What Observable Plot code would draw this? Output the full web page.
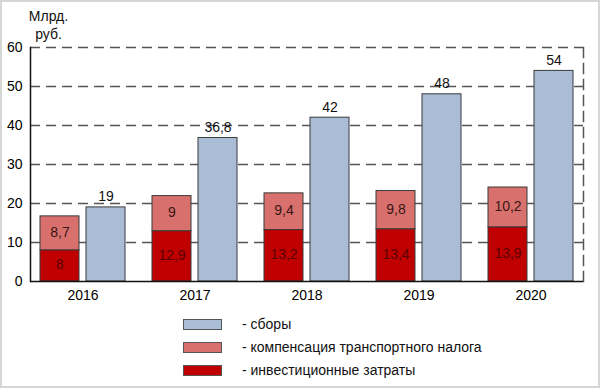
<!DOCTYPE html>
<html>
<head>
<meta charset="utf-8">
<script src="https://cdn.jsdelivr.net/npm/d3@7"></script>
<script src="https://cdn.jsdelivr.net/npm/@observablehq/plot@0.6"></script>
<style>
  html, body { margin: 0; padding: 0; background: #fff; }
  #wrap { position: relative; width: 600px; height: 388px; overflow: hidden; font-family: "Liberation Sans", Arial, sans-serif; }
  #wrap svg { position: absolute; left: 0; top: 0; }
  #border { position: absolute; left: 0; top: 0; width: 600px; height: 388px; box-sizing: border-box; border: 2px solid #d6d6d6; pointer-events: none; }
  .leg { position: absolute; left: 183px; width: 400px; height: 12px; font-size: 14px; color: #111; }
  .leg .sw { position: absolute; left: 0; top: 0; width: 39px; height: 11px; border: 1px solid #555; box-sizing: border-box; }
  .leg .lb { position: absolute; left: 59px; top: -3px; white-space: nowrap; line-height: 16px; }
</style>
</head>
<body>
<div id="wrap"><div id="border"></div></div>
<script>
const years = ["2016", "2017", "2018", "2019", "2020"];
const investments = [8, 12.9, 13.2, 13.4, 13.9];        // инвестиционные затраты
const compensation = [8.7, 9, 9.4, 9.8, 10.2];          // компенсация транспортного налога
const fees = [19, 36.8, 42, 48, 54];                    // сборы
const yTicks = [0, 10, 20, 30, 40, 50, 60];
const gridTicks = [10, 20, 30, 40, 50, 60];
const seriesNames = ["инвестиционные затраты", "компенсация транспортного налога", "сборы"];
const colors = { "инвестиционные затраты": "#c00000", "компенсация транспортного налога": "#d8716d", "сборы": "#a9bdd7" };
const labelColors = { "инвестиционные затраты": "#5a0000", "компенсация транспортного налога": "#3a1515" };

const stacked = [];
years.forEach((y, i) => {
  stacked.push({ year: y, series: seriesNames[0], value: investments[i] });
  stacked.push({ year: y, series: seriesNames[1], value: compensation[i] });
});
const feeRows = years.map((y, i) => ({ year: y, series: seriesNames[2], value: fees[i] }));
const fmt = v => String(v).replace(".", ",");

const chart = Plot.plot({
  width: 600,
  height: 310,
  marginTop: 47,
  marginLeft: 30,
  marginRight: 17,
  marginBottom: 29,
  style: { fontFamily: "Liberation Sans, Arial, sans-serif", fontSize: "14px", background: "transparent" },
  x: { domain: years, paddingInner: 0.239, paddingOuter: 0.07, label: null, tickSize: 0, tickPadding: 9 },
  y: { domain: [0, 60], ticks: yTicks, label: null, tickSize: 0, tickPadding: 8 },
  color: { domain: seriesNames, range: seriesNames.map(s => colors[s]) },
  marks: [
    Plot.ruleY(gridTicks, { stroke: "#555", strokeWidth: 1.5, strokeDasharray: "10,6" }),
    Plot.frame({ anchor: "right", stroke: "#555", strokeWidth: 1.5, strokeDasharray: "10,6" }),
    Plot.barY(stacked, Plot.stackY({ x: "year", y: "value", fill: "series", stroke: "#3a3a3a", strokeWidth: 1, insetRight: 46, insetLeft: 0, order: seriesNames })),
    Plot.barY(feeRows, { x: "year", y: "value", fill: "series", stroke: "#3a3a3a", strokeWidth: 1, insetLeft: 46 }),
    Plot.text(stacked, Plot.stackY({ x: "year", y: "value", text: d => fmt(d.value), fill: d => labelColors[d.series], dx: -23, dy: -1, fontSize: 14, order: seriesNames })),
    Plot.text(feeRows, { x: "year", y: "value", text: d => fmt(d.value), dx: 23, dy: -6, lineAnchor: "bottom", fontSize: 14, fill: "#111" }),
    Plot.frame({ anchor: "left", stroke: "#111", strokeWidth: 1.5 }),
    Plot.ruleY([0], { stroke: "#111", strokeWidth: 1.5 }),
    Plot.text(["Млрд.\nруб."], { frameAnchor: "top-left", dx: 18, dy: -23, lineAnchor: "middle", textAnchor: "middle", lineHeight: 1.28, fontSize: 14, fill: "#111" })
  ]
});
const wrap = document.getElementById("wrap");
wrap.insertBefore(chart, wrap.firstChild);

const legendItems = [
  { name: "сборы", top: 319 },
  { name: "компенсация транспортного налога", top: 342 },
  { name: "инвестиционные затраты", top: 365 }
];
legendItems.forEach(it => {
  const d = document.createElement("div");
  d.className = "leg";
  d.style.top = it.top + "px";
  const sw = document.createElement("div");
  sw.className = "sw";
  sw.style.background = colors[it.name];
  const lb = document.createElement("div");
  lb.className = "lb";
  lb.textContent = "- " + it.name;
  d.appendChild(sw);
  d.appendChild(lb);
  wrap.appendChild(d);
});
</script>
</body>
</html>
